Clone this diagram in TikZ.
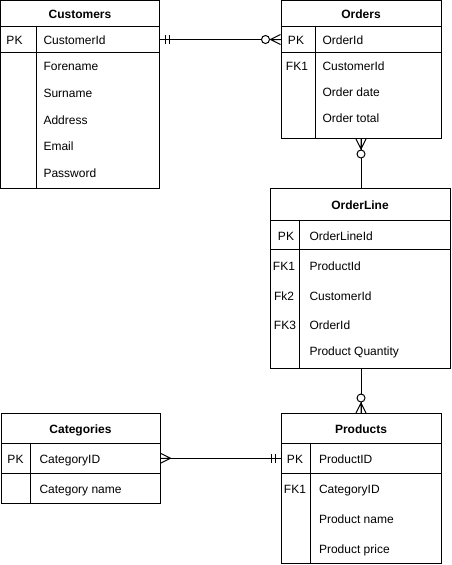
\documentclass[tikz,border=0pt]{standalone}
\usepackage{fontspec}
\setmainfont{Liberation Sans}
\usepackage{tikz}
\usetikzlibrary{positioning}
\newcommand{\erone}[2]{\draw[shift={(#1)}, rotate=#2] (5,-4.5) -- (5,4.5) (9,-4.5) -- (9,4.5);}
\newcommand{\ermany}[2]{\draw[shift={(#1)}, rotate=#2] (0,5) -- (10,0) -- (0,-5) (0,0) -- (10,0);}
\newcommand{\erzeromany}[2]{\ermany{#1}{#2}\draw[shift={(#1)}, rotate=#2, fill=white] (15,0) circle (4pt);}

\begin{document}
\begin{tikzpicture}[x=1pt, y=1pt, line width=1pt]
\tikzstyle{tbl}=[rectangle, draw=black, line width=1pt, inner sep=0pt]
\tikzstyle{key}=[font=\fontsize{12}{14}\selectfont, inner sep=0pt, text height=8.6pt, text depth=0pt]
\tikzstyle{tblname}=[key, font=\fontsize{12}{14}\selectfont\bfseries]
\tikzstyle{field}=[key, anchor=west]
\tikzstyle{connect}=[line width=1pt]

  \useasboundingbox (0,0) rectangle (451,-565);

  \node[tbl, minimum width=159pt, minimum height=188pt] (cust)   at (80,-94.5)  {};
  \node[tbl, minimum width=159pt, minimum height=26pt]  (custpk) at (80,-39.5)  {};
  \node[tblname] (custname) at (80,-14) {Customers};
  \draw ([xshift=36pt]custpk.north west) -- ([xshift=36pt]cust.south west);
  \node[key] (custk1) at (14.5,-40) {PK};
  \node[field] (custid) at (43,-40) {CustomerId};
  \node[below=26.6pt of custid.west, field]   (custfore)  {Forename};
  \node[below=26.6pt of custfore.west, field] (custsur)   {Surname};
  \node[below=26.6pt of custsur.west, field]  (custaddr)  {Address};
  \node[below=26.6pt of custaddr.west, field] (custmail)  {Email};
  \node[below=26.6pt of custmail.west, field] (custpass)  {Password};

  \node[tbl, minimum width=160pt, minimum height=138pt] (ord)   at (361,-69.5) {};
  \node[tbl, minimum width=160pt, minimum height=26pt]  (ordpk) at (361,-39.5) {};
  \node[tblname] (ordname) at (361,-14) {Orders};
  \draw ([xshift=35pt]ordpk.north west) -- ([xshift=35pt]ord.south west);
  \node[key] (ordk1) at (296,-40) {PK};
  \node[key] (ordk2) at (297,-66) {FK1};
  \node[field] (ordid) at (322,-40) {OrderId};
  \node[below=26pt of ordid.west, field]   (ordcust)  {CustomerId};
  \node[below=26pt of ordcust.west, field] (orddate)  {Order date};
  \node[below=26pt of orddate.west, field] (ordtotal) {Order total};

  \node[tbl, minimum width=180pt, minimum height=180pt] (ol)   at (360,-278.5) {};
  \node[tbl, minimum width=180pt, minimum height=29pt]  (olpk) at (360,-234.5) {};
  \node[tblname] (olname) at (360,-205) {OrderLine};
  \draw ([xshift=30pt]olpk.north west) -- ([xshift=30pt]ol.south west);
  \node[key] (olk1) at (286,-236) {PK};
  \node[key] (olk2) at (284,-266) {FK1};
  \node[key] (olk3) at (284,-296) {Fk2};
  \node[key] (olk4) at (285,-325) {FK3};
  \node[field] (olid) at (309,-236) {OrderLineId};
  \node[below=30pt of olid.west, field]   (olprod)  {ProductId};
  \node[below=30pt of olprod.west, field] (olcust)  {CustomerId};
  \node[below=29pt of olcust.west, field] (olord)   {OrderId};
  \node[below=26.5pt of olord.west, field] (olqty)  {Product Quantity};

  \node[tbl, minimum width=159pt, minimum height=89.5pt] (cat)   at (80.5,-458.25) {};
  \node[tbl, minimum width=159pt, minimum height=30.5pt] (catpk) at (80.5,-458.25) {};
  \node[tblname] (catname) at (80.5,-429) {Categories};
  \draw ([xshift=30pt]catpk.north west) -- ([xshift=30pt]cat.south west);
  \node[key] (catk1) at (15.5,-459) {PK};
  \node[field] (catid) at (39,-459) {CategoryID};
  \node[below=30pt of catid.west, field] (catlabel) {Category name};

  \node[tbl, minimum width=160pt, minimum height=149.5pt] (prod)   at (361,-488.25) {};
  \node[tbl, minimum width=160pt, minimum height=30.5pt]  (prodpk) at (361,-458.25) {};
  \node[tblname] (prodname) at (361,-429) {Products};
  \draw ([xshift=29.5pt]prodpk.north west) -- ([xshift=29.5pt]prod.south west);
  \node[key] (prodk1) at (295,-459) {PK};
  \node[key] (prodk2) at (295,-489) {FK1};
  \node[field] (prodid) at (318.5,-459) {ProductID};
  \node[below=30pt of prodid.west, field]   (prodcat)   {CategoryID};
  \node[below=30pt of prodcat.west, field]  (prodlabel) {Product name};
  \node[below=30pt of prodlabel.west, field] (prodprice) {Product price};

  \draw[connect] (custpk.east) -- (ordpk.west);
  \draw[connect] (ord.south) -- (ord.south |- ol.north);
  \draw[connect] (prod.north |- ol.south) -- (prod.north);
  \draw[connect] (catpk.east) -- (prodpk.west);

  \erone{custpk.east}{0}
  \erzeromany{ordpk.west}{180}
  \erzeromany{ord.south}{-90}
  \erzeromany{prod.north}{90}
  \ermany{catpk.east}{0}
  \erone{prodpk.west}{180}

\end{tikzpicture}
\end{document}
